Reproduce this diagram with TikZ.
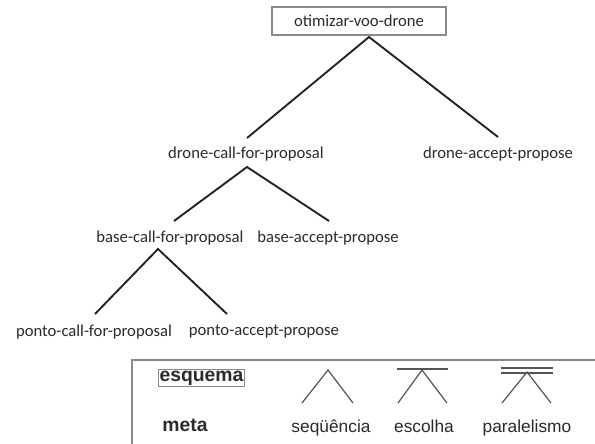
\documentclass[tikz,border=0pt]{standalone}
\usepackage{fontspec}
\setmainfont{Carlito}
\newfontfamily\legendfont{Liberation Sans}
\definecolor{inkgray}{HTML}{2B2B2B}
\definecolor{edgegray}{HTML}{222222}
\definecolor{framegray}{HTML}{8A8A8A}
\definecolor{symgray}{HTML}{555555}
\begin{document}
\begin{tikzpicture}[x=0.75pt,y=-0.75pt,
  treelabel/.style={text=inkgray,inner sep=0pt,font=\fontsize{12.5}{15}\selectfont},
  rootbox/.style={treelabel,draw=framegray,line width=0.8pt,minimum width=130.5pt,minimum height=21pt},
  branch/.style={draw=edgegray,line width=1.4pt},
  legendtext/.style={text=inkgray,inner sep=0pt,anchor=base,font=\legendfont\fontsize{13}{15}\selectfont},
  legendbold/.style={text=inkgray,inner sep=0pt,font=\legendfont\bfseries\fontsize{14.5}{16}\selectfont},
  symline/.style={draw=symgray,line width=0.9pt},
  symbar/.style={draw=symgray,line width=1.8pt}]
\useasboundingbox (0,0) rectangle (595,443);
\fill[white] (0,0) rectangle (595,443);

% tree nodes
\node[rootbox] (root) at (359,21) {otimizar-voo-drone};
\node[treelabel] (dcfp) at (246,154) {drone-call-for-proposal};
\node[treelabel] (dap) at (498,154) {drone-accept-propose};
\node[treelabel] (bcfp) at (170,238) {base-call-for-proposal};
\node[treelabel] (bap) at (328,238) {base-accept-propose};
\node[treelabel] (pcfp) at (94,332) {ponto-call-for-proposal};
\node[treelabel] (pap) at (264,332) {ponto-accept-propose};

% branch points
\coordinate (rootapex) at (369,37);
\coordinate (dcfpapex) at (247,167);
\coordinate (bcfpapex) at (158,249);
\coordinate (dcfptop) at (247,138);
\coordinate (daptop) at (498,137);
\coordinate (bcfptop) at (174,221);
\coordinate (baptop) at (329,221);
\coordinate (pcfptop) at (95,314);
\coordinate (paptop) at (227,314);

\draw[branch] (dcfptop) -- (rootapex) -- (daptop);
\draw[branch] (bcfptop) -- (dcfpapex) -- (baptop);
\draw[branch] (pcfptop) -- (bcfpapex) -- (paptop);

% legend frame (runs off the right and bottom edges)
\draw[draw=framegray,line width=1.6pt] (600,360) -- (132,360) -- (132,448);

\node[legendbold,draw=framegray,line width=0.6pt,inner sep=0.8pt] (esq) at (201.5,378) {esquema};
\node[legendbold,anchor=base] (meta) at (185,431) {meta};

% sequence symbol
\coordinate (sqapex) at (328,370);
\coordinate (sqleft) at (302,403);
\coordinate (sqright) at (353,403);
\draw[symline] (sqleft) -- (sqapex) -- (sqright);
\node[legendtext] (seq) at (331,432) {seqüência};

% choice symbol
\coordinate (chapex) at (422,370);
\coordinate (chleft) at (398,403);
\coordinate (chright) at (447,403);
\coordinate (chbarl) at (397,369);
\coordinate (chbarr) at (448,369);
\draw[symbar] (chbarl) -- (chbarr);
\draw[symline] (chleft) -- (chapex) -- (chright);
\node[legendtext] (esc) at (424,432) {escolha};

% parallel symbol
\coordinate (paapex) at (527,372);
\coordinate (paleft) at (502,403);
\coordinate (paright) at (551,403);
\coordinate (pabarl) at (501,368);
\coordinate (pabarr) at (553,368);
\coordinate (pabarl2) at (501,373);
\coordinate (pabarr2) at (553,373);
\draw[symbar,line width=1.3pt] (pabarl) -- (pabarr);
\draw[symbar,line width=1.3pt] (pabarl2) -- (pabarr2);
\draw[symline] (paleft) -- (paapex) -- (paright);
\node[legendtext] (par) at (527,432) {paralelismo};
\end{tikzpicture}
\end{document}
